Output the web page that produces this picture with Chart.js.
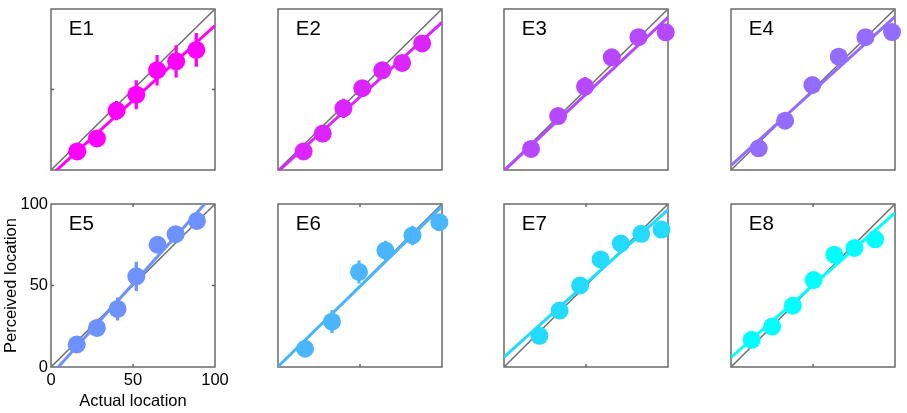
<!DOCTYPE html>
<html>
<head>
<meta charset="utf-8">
<script src="https://cdn.jsdelivr.net/npm/chart.js@4/dist/chart.umd.min.js"></script>
<style>
body { margin: 0; background: #fff; }
#wrap { position: relative; width: 907px; height: 413px; }
#wrap canvas { position: absolute; left: 0; top: 0; }
</style>
</head>
<body>
<div id="wrap"></div>
<script>
// values (actual vs perceived location, 0-100)
var panelNames = ['E1', 'E2', 'E3', 'E4', 'E5', 'E6', 'E7', 'E8'];
var panelColors = ['rgb(255,0,255)', 'rgb(219,36,255)', 'rgb(182,73,255)', 'rgb(146,109,255)',
                   'rgb(109,146,255)', 'rgb(73,182,255)', 'rgb(36,219,255)', 'rgb(0,255,255)'];
var tickLabels = [0, 50, 100];

var actualE1 = [16, 28, 40, 52, 64.7, 76.3, 88.6];
var perceivedE1 = [11.5, 19.6, 36.9, 46.8, 62, 67.5, 74.6];
var errorE1 = [2, 2, 6, 9, 9.5, 10, 10.5];

var actualE2 = [15.6, 27.3, 39.9, 51.4, 63.6, 75.7, 87.9];
var perceivedE2 = [11.5, 22.6, 38.3, 50.8, 61.9, 66.5, 78.6];
var errorE2 = [2, 5, 6, 5, 5, 2, 2];

var actualE3 = [16.5, 33, 49.4, 65.7, 82, 98.6];
var perceivedE3 = [13.1, 33.5, 51.8, 70, 82.5, 85.5];
var errorE3 = [1, 1, 6, 1, 1, 1];

var actualE4 = [16.9, 33, 49.6, 65.7, 82, 98.2];
var perceivedE4 = [13.5, 30.6, 52.8, 70.4, 82.5, 85.7];
var errorE4 = [1, 1, 1, 1, 1, 1];

var actualE5 = [15.7, 28, 40.6, 52, 65, 76, 89];
var perceivedE5 = [13.8, 24, 35.6, 55.6, 75, 81.5, 89.6];
var errorE5 = [2, 5, 7, 9, 3, 2, 2];

var actualE6 = [16.5, 32.9, 49.4, 65.5, 82, 98.4];
var perceivedE6 = [11.2, 27.8, 58.3, 71.5, 80.7, 88.8];
var errorE6 = [1, 7, 7, 6, 6, 2];

var actualE7 = [21.6, 33.9, 46.4, 58.9, 71.2, 83.7, 96];
var perceivedE7 = [19.1, 34.6, 50, 66, 75.8, 81.7, 84.3];
var errorE7 = [1, 1, 1, 1, 1, 1, 1];

var actualE8 = [12.6, 25.1, 37.7, 50.4, 63, 75.3, 87.9];
var perceivedE8 = [16.7, 24.8, 37.6, 53.3, 68.9, 73, 78.3];
var errorE8 = [1, 1, 1, 1, 1, 1, 1];

// fitted line read at actual = 0 and actual = 100
var fitAt0 = [-3.3, -0.9, -0.5, 2.8, -5, 0.3, 6.1, 5.9];
var fitAt100 = [89.7, 91.7, 94.8, 95.2, 107, 98.6, 96.5, 94.5];

var actualAll = [actualE1, actualE2, actualE3, actualE4, actualE5, actualE6, actualE7, actualE8];
var perceivedAll = [perceivedE1, perceivedE2, perceivedE3, perceivedE4, perceivedE5, perceivedE6, perceivedE7, perceivedE8];
var errorAll = [errorE1, errorE2, errorE3, errorE4, errorE5, errorE6, errorE7, errorE8];

// layout of the plot boxes in pixels
var boxLeft = [51, 278, 504, 731, 51, 278, 504, 731];
var boxTop = [5, 5, 5, 5, 204, 204, 204, 204];
var boxW = 164;
var boxH = [165, 165, 165, 165, 163, 163, 163, 163];
// tick marks at 50: 'y' on left/right, 'x' on top/bottom
var tickMarks = ['y', '', '', '', 'xy', 'x', 'x', 'x'];

var W = 907, H = 413;
var FONT = 'Liberation Sans, Arial, Helvetica, sans-serif';

var framePlugin = {
    id: 'frame',
    beforeDatasetsDraw: function (chart, args, opts) {
        var ctx = chart.ctx, a = chart.chartArea;
        var sx = chart.scales.x, sy = chart.scales.y;
        ctx.save();
        ctx.strokeStyle = '#5f5f5f';
        ctx.lineWidth = 1.4;
        ctx.strokeRect(a.left, a.top, a.right - a.left, a.bottom - a.top);
        ctx.beginPath();
        if (opts.ticks.indexOf('y') >= 0) {
            var py = sy.getPixelForValue(50);
            ctx.moveTo(a.left, py); ctx.lineTo(a.left + 3, py);
            ctx.moveTo(a.right, py); ctx.lineTo(a.right - 3, py);
        }
        if (opts.ticks.indexOf('x') >= 0) {
            var px = sx.getPixelForValue(50);
            ctx.moveTo(px, a.bottom); ctx.lineTo(px, a.bottom - 3);
            ctx.moveTo(px, a.top); ctx.lineTo(px, a.top + 3);
        }
        ctx.stroke();
        ctx.fillStyle = '#000';
        ctx.font = '20.5px ' + FONT;
        ctx.textAlign = 'left';
        ctx.textBaseline = 'alphabetic';
        ctx.fillText(opts.label, sx.getPixelForValue(10.8), sy.getPixelForValue(83.8));
        ctx.restore();
    }
};

function makePanel(i) {
    var canvas = document.createElement('canvas');
    canvas.width = W;
    canvas.height = H;
    document.getElementById('wrap').appendChild(canvas);

    var xs = actualAll[i], ys = perceivedAll[i], es = errorAll[i];
    var pts = [], bars = [];
    for (var k = 0; k < xs.length; k++) {
        pts.push({ x: xs[k], y: ys[k] });
        bars.push({ x: xs[k], y: ys[k] - es[k] });
        bars.push({ x: xs[k], y: ys[k] + es[k] });
        bars.push({ x: xs[k], y: null });
    }
    var col = panelColors[i];
    var labelled = (i === 4);

    var xAxis = {
        type: 'linear', min: 0, max: 100,
        display: labelled,
        grid: { display: false, drawTicks: false },
        border: { display: false },
        ticks: {
            callback: function (v) { return tickLabels.indexOf(v) >= 0 ? v : null; },
            stepSize: 50, autoSkip: false, maxRotation: 0,
            color: '#000', padding: 4,
            font: { family: FONT, size: 16.5 }
        },
        title: {
            display: true, text: 'Actual location', color: '#000',
            padding: { top: 0, bottom: 2 },
            font: { family: FONT, size: 16.5 }
        }
    };
    var yAxis = {
        type: 'linear', min: 0, max: 100,
        display: labelled,
        grid: { display: false, drawTicks: false },
        border: { display: false },
        ticks: {
            callback: function (v) { return tickLabels.indexOf(v) >= 0 ? v : null; },
            stepSize: 50, autoSkip: false,
            color: '#000', padding: 3,
            font: { family: FONT, size: 16.5 }
        },
        title: {
            display: true, text: 'Perceived location', color: '#000',
            padding: { top: 2, bottom: 0 },
            font: { family: FONT, size: 16.5 }
        }
    };
    if (labelled) {
        xAxis.afterFit = function (s) { s.height = H - (boxTop[i] + boxH[i]); };
        yAxis.afterFit = function (s) { s.width = boxLeft[i]; };
    }

    var pad = labelled
        ? { left: 0, top: boxTop[i], right: W - boxLeft[i] - boxW, bottom: 0 }
        : { left: boxLeft[i], top: boxTop[i], right: W - boxLeft[i] - boxW, bottom: H - boxTop[i] - boxH[i] };

    new Chart(canvas.getContext('2d'), {
        type: 'scatter',
        data: {
            datasets: [
                {
                    label: 'points', data: pts, order: 0, clip: false,
                    backgroundColor: col, borderWidth: 0, pointRadius: 9, pointHoverRadius: 9
                },
                {
                    label: 'error', data: bars, order: 1, showLine: true, spanGaps: false,
                    borderColor: col, borderWidth: 3.2, pointRadius: 0, clip: false
                },
                {
                    label: 'fit', data: [{ x: 0, y: fitAt0[i] }, { x: 100, y: fitAt100[i] }],
                    order: 2, showLine: true, borderColor: col, borderWidth: 3, pointRadius: 0, clip: 0
                },
                {
                    label: 'identity', data: [{ x: 0, y: 0 }, { x: 100, y: 100 }],
                    order: 3, showLine: true, borderColor: '#6e6e6e', borderWidth: 1.5, pointRadius: 0
                }
            ]
        },
        options: {
            responsive: false,
            animation: false,
            events: [],
            layout: { padding: pad },
            plugins: {
                legend: { display: false },
                tooltip: { enabled: false },
                frame: { label: panelNames[i], ticks: tickMarks[i] }
            },
            scales: { x: xAxis, y: yAxis }
        },
        plugins: [framePlugin]
    });
}

for (var i = 0; i < panelNames.length; i++) {
    makePanel(i);
}
</script>
</body>
</html>
